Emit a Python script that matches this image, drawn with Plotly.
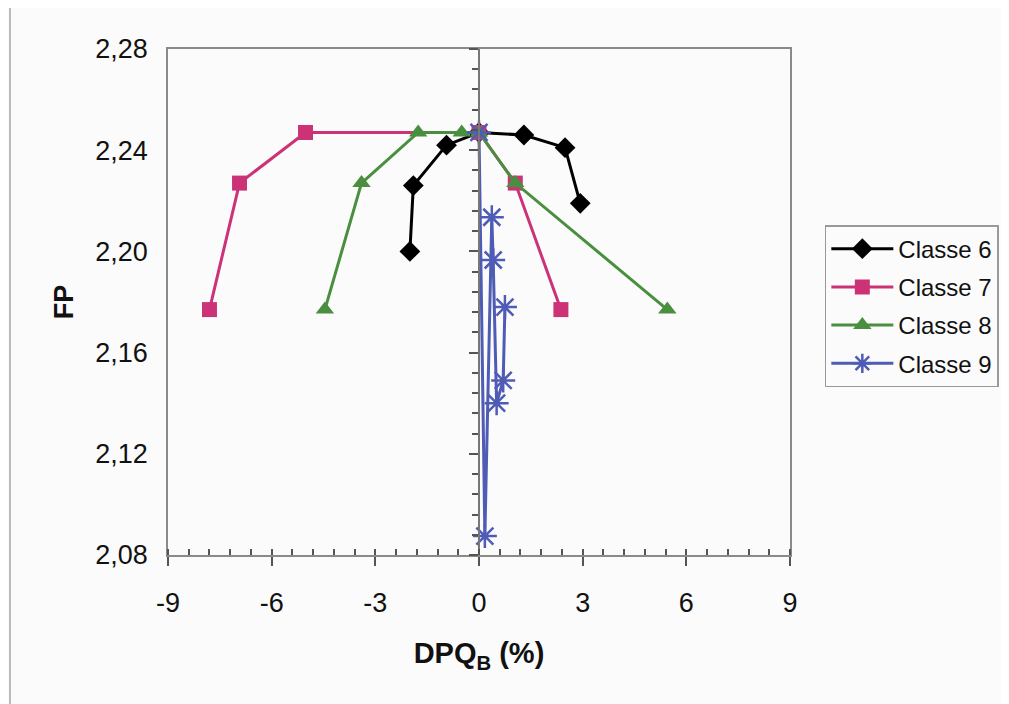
import plotly.graph_objects as go

# ---- data ----
c6_x = [-2.0, -1.9, -0.94, 0.0, 1.30, 2.49, 2.93]
c6_y = [2.200, 2.226, 2.242, 2.247, 2.246, 2.241, 2.219]

c7_x = [-7.8, -6.93, -5.02, 0.0, 1.05, 2.37]
c7_y = [2.177, 2.227, 2.247, 2.247, 2.227, 2.177]

c8_x = [-4.46, -3.40, -1.76, -0.50, 0.0, 1.05, 5.45]
c8_y = [2.177, 2.227, 2.247, 2.247, 2.247, 2.227, 2.177]

c9_x = [0.0, 0.17, 0.37, 0.41, 0.51, 0.70, 0.75]
c9_y = [2.247, 2.0875, 2.2135, 2.1966, 2.140, 2.149, 2.178]

names = ["Classe 6", "Classe 7", "Classe 8", "Classe 9"]
x_ticks = [-9, -6, -3, 0, 3, 6, 9]
y_ticks = [2.08, 2.12, 2.16, 2.20, 2.24, 2.28]

colors = ["#000000", "#cc3377", "#4a8f3f", "#4f5cb5"]
FONT = "Liberation Sans, Arial, sans-serif"

fig = go.Figure()
series = [(c6_x, c6_y), (c7_x, c7_y), (c8_x, c8_y), (c9_x, c9_y)]
markers = [
    dict(symbol="diamond", size=16, color=colors[0]),
    dict(symbol="square", size=15, color=colors[1]),
    dict(symbol="triangle-up", size=16, color=colors[2]),
    dict(symbol="asterisk-open", size=20, color=colors[3],
         line=dict(color=colors[3], width=2.5)),
]
for i, (xs, ys) in enumerate(series):
    fig.add_trace(go.Scatter(
        x=xs, y=ys, mode="lines+markers", name=names[i],
        line=dict(color=colors[i], width=3),
        marker=markers[i], legendgroup=names[i],
    ))

axis_col = "#8a8a8a"
fig.update_layout(
    width=1009, height=704,
    margin=dict(l=160, r=227, t=41, b=157),
    paper_bgcolor="#fbfbfb", plot_bgcolor="#fbfbfb",
    separators=",.",
    font=dict(family=FONT, size=27, color="#111111"),
    showlegend=True,
    legend=dict(
        x=1.056, y=0.652, xanchor="left", yanchor="top",
        bgcolor="#fbfbfb", bordercolor="#999999", borderwidth=1.5,
        font=dict(family=FONT, size=24, color="#111111"),
        tracegroupgap=4, itemwidth=62,
    ),
    xaxis=dict(
        range=[-9, 9], tickvals=x_ticks, ticktext=[str(v) for v in x_ticks],
        showgrid=False, zeroline=False,
        showline=True, linecolor=axis_col, linewidth=1.5, mirror=True,
        ticks="outside", ticklen=9, tickcolor="#555555", tickwidth=1.5,
        minor=dict(dtick=0.6, ticks="inside", ticklen=6, tickcolor="#555555"),
        ticklabelstandoff=14,
        title=dict(text="<b>DPQ<sub>B</sub> (%)</b>", font=dict(size=29), standoff=26),
    ),
    yaxis=dict(
        range=[2.08, 2.28], tickvals=y_ticks, tickformat=".2f",
        showgrid=False, zeroline=False,
        showline=True, linecolor=axis_col, linewidth=1.5, mirror=True,
        ticks="", ticklabelstandoff=13,
        title=dict(text="<b>FP</b>", font=dict(size=27), standoff=14),
    ),
    yaxis2=dict(
        range=[2.08, 2.28], overlaying="y", anchor="free", position=0.5,
        side="left", showticklabels=False, showgrid=False, zeroline=False,
        showline=True, linecolor="#777777", linewidth=1.5,
        tickvals=y_ticks, ticks="outside", ticklen=9, tickcolor="#555555", tickwidth=1.5,
        minor=dict(dtick=0.008, ticks="outside", ticklen=6, tickcolor="#555555"),
    ),
)
# an empty trace on the central axis so that it is drawn
fig.add_trace(go.Scatter(x=[None], y=[None], yaxis="y2", showlegend=False, hoverinfo="skip"))

# outer chart frame
fig.add_shape(type="rect", xref="paper", yref="paper",
              x0=-0.254, x1=1.36, y0=-0.30, y1=1.087,
              line=dict(color="#bbbbbb", width=2), layer="below")

fig.write_html("out.html")
